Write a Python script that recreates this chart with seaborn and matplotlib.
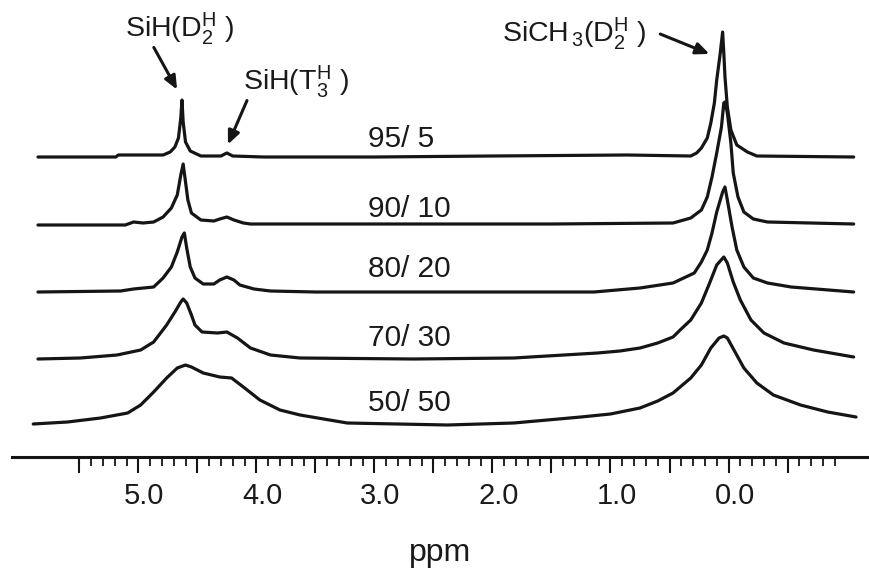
import numpy as np
import pandas as pd
import seaborn as sns
import matplotlib.pyplot as plt
from matplotlib.ticker import FixedLocator, FuncFormatter
from matplotlib.transforms import ScaledTranslation

# 1H NMR spectra: chemical shift (ppm) and intensity above baseline
ratios = ["95/ 5", "90/ 10", "80/ 20", "70/ 30", "50/ 50"]
offsets = [300, 232, 165, 98, 33]

ppm_95 = [5.85, 5.19, 5.17, 4.79, 4.73, 4.69, 4.66, 4.64, 4.63, 4.62, 4.60, 4.56, 4.47,
          4.30, 4.25, 4.20, 3.94, 3.0, 2.0, 0.86, 0.32, 0.27, 0.23, 0.18, 0.15, 0.12,
          0.10, 0.07, 0.05, 0.04, 0.03, 0.01, -0.02, -0.07, -0.16, -0.24, -1.06]
int_95 = [0, 0, 2, 2, 5, 10, 19, 39, 57, 35, 15, 6, 1,
          1, 4, 1, 0, 0, 1, 2, 1, 4, 9, 19, 34, 54,
          77, 104, 125, 104, 80, 50, 27, 12, 5, 1, 0]

ppm_90 = [5.85, 5.11, 5.04, 4.96, 4.87, 4.79, 4.72, 4.67, 4.64, 4.62, 4.60, 4.58, 4.55,
          4.47, 4.36, 4.31, 4.25, 4.19, 4.11, 4.05, 3.0, 1.5, 0.47, 0.32, 0.23, 0.18,
          0.14, 0.10, 0.06, 0.04, 0.03, 0.01, -0.02, -0.04, -0.08, -0.13, -0.21, -0.33,
          -1.06]
int_90 = [0, 0, 3, 2, 3, 8, 17, 30, 50, 61, 43, 25, 12,
          5, 4, 6, 8, 5, 2, 1, 1, 1, 2, 7, 15, 28,
          48, 72, 98, 122, 123, 112, 82, 52, 28, 13, 6, 3,
          1]

ppm_80 = [5.85, 5.15, 5.04, 4.87, 4.79, 4.72, 4.67, 4.63, 4.61, 4.59, 4.56, 4.52, 4.45,
          4.36, 4.31, 4.25, 4.19, 4.14, 4.02, 3.88, 3.5, 1.14, 0.75, 0.47, 0.29, 0.23,
          0.18, 0.14, 0.10, 0.05, 0.03, 0.01, -0.03, -0.07, -0.13, -0.21, -0.33, -0.53,
          -1.06]
int_80 = [0, 1, 3, 5, 14, 25, 40, 55, 59, 44, 25, 14, 8,
          8, 12, 15, 12, 7, 3, 1, 0, 0, 4, 9, 19, 30,
          42, 59, 80, 100, 105, 92, 65, 42, 25, 14, 9, 5,
          0]

ppm_70 = [5.85, 5.49, 5.18, 4.98, 4.87, 4.76, 4.69, 4.64, 4.62, 4.59, 4.55, 4.52, 4.46,
          4.33, 4.25, 4.16, 4.05, 3.88, 3.63, 2.67, 1.82, 1.11, 0.92, 0.75, 0.60, 0.47,
          0.41, 0.32, 0.23, 0.16, 0.10, 0.04, 0.01, -0.04, -0.10, -0.19, -0.30, -0.47,
          -0.72, -1.06]
int_70 = [0, 1, 4, 9, 17, 34, 47, 57, 60, 56, 44, 34, 27,
          26, 27, 21, 11, 4, 1, 0, 1, 6, 8, 11, 16, 22,
          29, 39, 56, 76, 94, 102, 96, 77, 59, 39, 26, 16,
          9, 2]

ppm_50 = [5.89, 5.60, 5.32, 5.09, 4.98, 4.87, 4.76, 4.67, 4.60, 4.55, 4.45, 4.31, 4.21,
          4.11, 3.97, 3.80, 3.63, 3.23, 2.38, 1.82, 1.25, 1.00, 0.75, 0.60, 0.47, 0.41,
          0.32, 0.23, 0.15, 0.08, 0.04, 0.01, -0.06, -0.13, -0.24, -0.38, -0.61, -0.84,
          -1.08]
int_50 = [0, 2, 6, 11, 19, 32, 46, 56, 59, 57, 51, 47, 46,
          37, 24, 14, 9, 1, -1, 1, 7, 10, 16, 23, 31, 37,
          46, 59, 76, 86, 88, 86, 71, 56, 41, 29, 19, 12,
          7]

spectra = [(ppm_95, int_95), (ppm_90, int_90), (ppm_80, int_80),
           (ppm_70, int_70), (ppm_50, int_50)]

major_ticks = [5.5, 5.0, 4.5, 4.0, 3.5, 3.0, 2.5, 2.0, 1.5, 1.0, 0.5, 0.0, -0.5]
minor_ticks = np.round(np.arange(-0.9, 5.51, 0.1), 1)

sns.set_style("white")
plt.rcParams['font.family'] = ['Liberation Sans', 'DejaVu Sans']
plt.rcParams['mathtext.fontset'] = 'custom'
plt.rcParams['mathtext.rm'] = 'Liberation Sans'
plt.rcParams['mathtext.it'] = 'Liberation Sans'

fig = plt.figure(figsize=(8.69, 5.69), dpi=100)
ax = fig.add_axes([12 / 869, 112 / 569, 857 / 869, 457 / 569])

line_color = "#151515"
for (ppm, inten), off in zip(spectra, offsets):
    df = pd.DataFrame({"ppm": ppm, "y": np.array(inten) + off})
    sns.lineplot(data=df, x="ppm", y="y", sort=False, color=line_color,
                 lw=2.3, ax=ax, solid_joinstyle="round")

# composition labels
label_y = [310, 240, 180, 111, 46]
for txt, yy in zip(ratios, label_y):
    ax.text(3.05, yy, txt, fontsize=21.5, ha="left", va="baseline", color="#1a1a1a")

# peak annotations
arrow = dict(arrowstyle="-|>,head_length=0.8,head_width=0.35", color="#151515", lw=2.2)
ax.annotate("", xy=(4.66, 365), xytext=(4.88, 412), arrowprops=arrow)
ax.annotate("", xy=(4.25, 310), xytext=(4.07, 359), arrowprops=arrow)
ax.annotate("", xy=(0.14, 402), xytext=(0.60, 424), arrowprops=arrow)
ax.text(5.11, 420, r"SiH(D$_{2}^{\mathrm{H}}$ )", fontsize=20.5, ha="left", va="baseline", color="#1a1a1a")
ax.text(4.11, 367, r"SiH(T$_{3}^{\mathrm{H}}$ )", fontsize=20.5, ha="left", va="baseline", color="#1a1a1a")
ax.text(1.92, 415, r"SiCH$_{\,3}$(D$_{2}^{\mathrm{H}}$ )", fontsize=20.5, ha="left", va="baseline", color="#1a1a1a")

ax.set_xlim(6.07, -1.19)
ax.set_ylim(0, 457)
for side in ["left", "right", "top"]:
    ax.spines[side].set_visible(False)
ax.spines["bottom"].set_linewidth(2.2)
ax.spines["bottom"].set_color("#151515")
ax.set_yticks([])
ax.set_ylabel("")

ax.xaxis.set_major_locator(FixedLocator(major_ticks))
ax.xaxis.set_minor_locator(FixedLocator(minor_ticks))
ax.xaxis.set_major_formatter(FuncFormatter(lambda v, p: f"{v:.1f}" if abs(v - round(v)) < 1e-6 and v >= 0 else ""))
ax.tick_params(axis="x", which="major", direction="out", length=11.5, width=1.5,
               color="#151515", labelsize=21, pad=6.5, labelcolor="#1a1a1a", bottom=True)
ax.tick_params(axis="x", which="minor", direction="out", length=6.5, width=1.3,
               color="#151515", bottom=True)
for lab in ax.get_xticklabels():
    lab.set_transform(lab.get_transform() + ScaledTranslation(6 / 100, 0, fig.dpi_scale_trans))

ax.set_xlabel("ppm", fontsize=23, labelpad=20, color="#1a1a1a")

fig.savefig("out.png", dpi=100)
